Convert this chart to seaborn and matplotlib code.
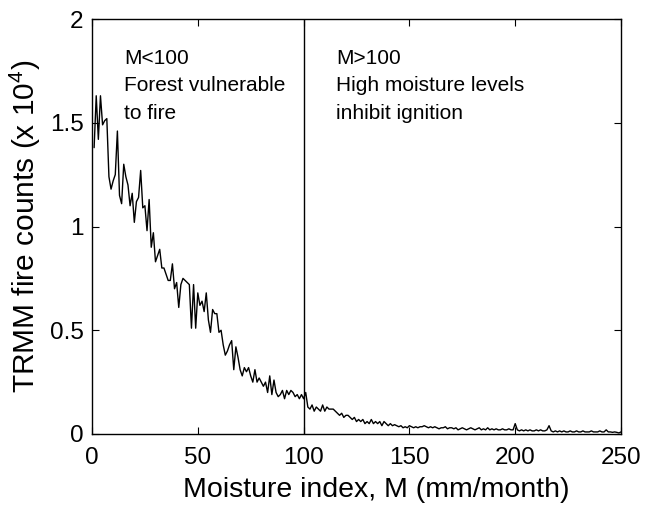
import matplotlib
matplotlib.use("Agg")
import matplotlib.pyplot as plt
import seaborn as sns
import pandas as pd
import numpy as np

moisture = list(range(1, 251))
fire_counts = [
    1.38, 1.63, 1.42, 1.63, 1.49, 1.51, 1.52, 1.24, 1.18, 1.22,
    1.25, 1.46, 1.15, 1.11, 1.30, 1.24, 1.20, 1.10, 1.16, 1.02,
    1.12, 1.14, 1.27, 1.09, 1.10, 0.98, 1.13, 0.90, 0.97, 0.83,
    0.86, 0.89, 0.80, 0.80, 0.77, 0.74, 0.74, 0.82, 0.70, 0.73,
    0.61, 0.72, 0.75, 0.74, 0.73, 0.72, 0.51, 0.72, 0.51, 0.68,
    0.62, 0.64, 0.59, 0.68, 0.55, 0.49, 0.60, 0.58, 0.58, 0.49,
    0.50, 0.43, 0.38, 0.40, 0.43, 0.45, 0.31, 0.42, 0.37, 0.31,
    0.28, 0.32, 0.30, 0.32, 0.28, 0.25, 0.31, 0.25, 0.27, 0.25,
    0.23, 0.25, 0.20, 0.28, 0.19, 0.26, 0.20, 0.18, 0.19, 0.21,
    0.17, 0.21, 0.19, 0.21, 0.20, 0.18, 0.19, 0.17, 0.19, 0.17,
    0.20, 0.13, 0.12, 0.14, 0.11, 0.13, 0.12, 0.11, 0.14, 0.11,
    0.13, 0.12, 0.12, 0.12, 0.11, 0.10, 0.09, 0.10, 0.08, 0.09,
    0.09, 0.08, 0.07, 0.08, 0.06, 0.07, 0.06, 0.07, 0.05, 0.06,
    0.05, 0.07, 0.05, 0.06, 0.05, 0.06, 0.04, 0.06, 0.05, 0.04,
    0.05, 0.04, 0.045, 0.04, 0.035, 0.04, 0.03, 0.035, 0.03, 0.04,
    0.035, 0.03, 0.035, 0.03, 0.035, 0.035, 0.04, 0.035, 0.03, 0.035,
    0.03, 0.035, 0.03, 0.025, 0.03, 0.03, 0.035, 0.025, 0.03, 0.03,
    0.025, 0.03, 0.02, 0.025, 0.03, 0.025, 0.02, 0.025, 0.03, 0.025,
    0.02, 0.025, 0.03, 0.02, 0.025, 0.02, 0.03, 0.02, 0.025, 0.02,
    0.025, 0.02, 0.02, 0.025, 0.02, 0.02, 0.025, 0.02, 0.02, 0.05,
    0.02, 0.015, 0.02, 0.015, 0.02, 0.015, 0.02, 0.015, 0.015, 0.02,
    0.015, 0.02, 0.015, 0.015, 0.02, 0.04, 0.015, 0.01, 0.015, 0.01,
    0.015, 0.01, 0.015, 0.01, 0.01, 0.015, 0.01, 0.01, 0.015, 0.01,
    0.01, 0.015, 0.01, 0.01, 0.01, 0.015, 0.01, 0.01, 0.01, 0.015,
    0.01, 0.01, 0.02, 0.01, 0.01, 0.008, 0.01, 0.008, 0.005, 0.01,
]
x_ticks = [0, 50, 100, 150, 200, 250]
y_ticks = [0, 0.5, 1, 1.5, 2]
y_tick_labels = ["0", "0.5", "1", "1.5", "2"]
threshold = 100
left_text = "M<100\nForest vulnerable\nto fire"
right_text = "M>100\nHigh moisture levels\ninhibit ignition"

sns.set_style("ticks")
plt.rcParams["font.family"] = ["Liberation Sans", "DejaVu Sans"]
plt.rcParams["mathtext.fontset"] = "custom"
plt.rcParams["mathtext.rm"] = "Liberation Sans"
plt.rcParams["mathtext.it"] = "Liberation Sans"
plt.rcParams["text.color"] = "black"
plt.rcParams["axes.labelcolor"] = "black"
plt.rcParams["xtick.color"] = "black"
plt.rcParams["ytick.color"] = "black"

df = pd.DataFrame({"M": moisture, "fires": fire_counts})

fig = plt.figure(figsize=(6.47, 5.14), dpi=100)
ax = fig.add_axes([92 / 647, 1 - 434 / 514, (621 - 92) / 647, (434 - 19) / 514])

sns.lineplot(data=df, x="M", y="fires", ax=ax, color="black", linewidth=1.0)
ax.axvline(threshold, color="black", linewidth=1.0)

ax.set_xlim(0, 250)
ax.set_ylim(0, 2)
ax.set_xticks(x_ticks)
ax.set_yticks(y_ticks)
ax.set_yticklabels(y_tick_labels)
ax.tick_params(direction="in", length=5, width=0.8, top=True, right=True,
               labelsize=17.5, colors="black")
ax.tick_params(axis="x", pad=9)
ax.tick_params(axis="y", pad=6)
for s in ax.spines.values():
    s.set_linewidth(1.0)
    s.set_color("black")

ax.set_xlabel("Moisture index, M (mm/month)", fontsize=20.5, color="black")
ax.xaxis.set_label_coords(0.538, -0.104)
ax.set_ylabel(r"TRMM fire counts (x 10$^{4}$)", fontsize=21.5, labelpad=5, color="black")

ax.text(15.2, 1.855, left_text, fontsize=15, va="top", ha="left", linespacing=1.55, color="black")
ax.text(115.2, 1.855, right_text, fontsize=15, va="top", ha="left", linespacing=1.55, color="black")

fig.savefig("out.png", dpi=100)
